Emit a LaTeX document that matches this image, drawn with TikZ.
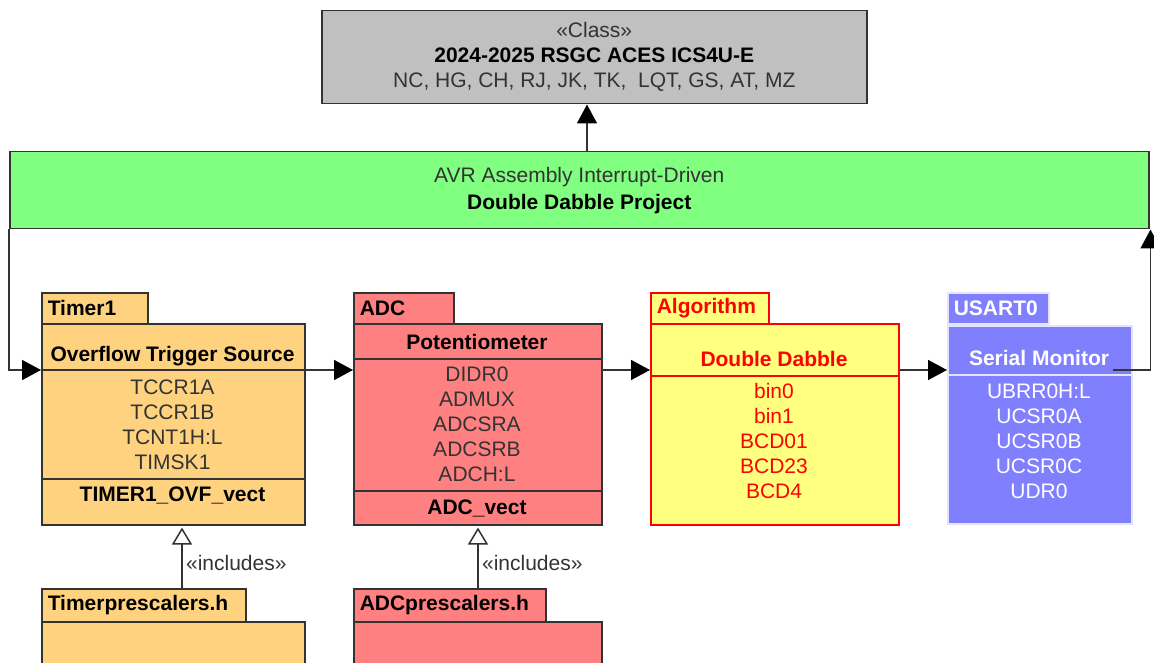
\documentclass[tikz,border=0pt]{standalone}
\usepackage{fontspec}
\setmainfont{Liberation Sans}
\usepackage{xcolor}
\usepackage{tikz}
\usetikzlibrary{arrows.meta,positioning}
\definecolor{linec}{HTML}{333333}
\definecolor{textc}{HTML}{333333}
\definecolor{classc}{HTML}{C0C0C0}
\definecolor{projc}{HTML}{80FF80}
\definecolor{timerc}{HTML}{FFD280}
\definecolor{adcc}{HTML}{FF8080}
\definecolor{algoc}{HTML}{FFFF80}
\definecolor{usartc}{HTML}{8080FF}
\definecolor{usartl}{HTML}{E4E4FF}
\tikzset{
  ar/.style={-{Triangle[length=19pt,width=20pt,color=black]},line width=1.5pt,linec},
  inc/.style={-{Triangle[open,length=17pt,width=20pt,fill=white]},line width=1.5pt,linec,shorten >=2pt},
  box/.style={draw=linec,line width=1.5pt,anchor=north west,inner sep=0pt},
  tab/.style={box,font=\fontsize{21}{25}\selectfont\bfseries,align=left,inner xsep=6pt,minimum height=31pt},
  sep/.style={line width=1.5pt,linec}
}
\newcommand{\ttl}[1]{\textcolor{black}{\textbf{#1}}}

\begin{document}
\begin{tikzpicture}[x=1pt,y=-1pt,font=\fontsize{21}{25}\selectfont,text=textc]
\clip (0,0) rectangle (1154,663);
\coordinate (row) at (0,370);
% top
\node[box,fill=classc,minimum width=545pt,minimum height=93pt,align=center] (cls) at (321,10)
  {«Class»\\\ttl{2024-2025 RSGC ACES ICS4U-E}\\NC, HG, CH, RJ, JK, TK,\ \ LQT, GS, AT, MZ};
\node[box,fill=projc,minimum width=1139pt,minimum height=77pt,align=center] (proj) at (9,151)
  {AVR Assembly Interrupt-Driven\\[2pt]\ttl{Double Dabble Project}};
\coordinate (up) at (587,151);
\draw[ar] (up) -- (up |- cls.south);
% Timer1
\node[tab,fill=timerc,text width=94pt] (timerTab) at (41,292) {\ttl{Timer1}};
\node[box,fill=timerc,minimum width=263pt,minimum height=201pt] (timer) at (41,323) {};
\node (timerHd) at (172.5,356) {\ttl{Overflow Trigger Source}};
\node[align=center] (timerAtt) at (172.5,425) {TCCR1A\\TCCR1B\\TCNT1H:L\\TIMSK1};
\node (timerOp) at (172.5,495) {\ttl{TIMER1\_OVF\_vect}};
\draw[sep] (timer.west |- row) -- (timer.east |- row);
\draw[sep] (41,479) -- (304,479);
% ADC
\node[tab,fill=adcc,text width=88pt] (adcTab) at (353,292) {\ttl{ADC}};
\node[box,fill=adcc,minimum width=248pt,minimum height=201pt] (adc) at (353,323) {};
\node (adcHd) at (477,342) {\ttl{Potentiometer}};
\node[align=center] (adcAtt) at (477,424.5) {DIDR0\\ADMUX\\ADCSRA\\ADCSRB\\ADCH:L};
\node (adcOp) at (477,508) {\ttl{ADC\_vect}};
\draw[sep] (353,359) -- (601,359);
\draw[sep] (353,491) -- (601,491);
% Algorithm
\node[tab,draw=red,fill=algoc,text=red,text width=106pt] (algoTab) at (650,292) {Algorithm};
\node[box,draw=red,fill=algoc,minimum width=248pt,minimum height=201pt] (algo) at (650,323) {};
\node[text=red,font=\fontsize{21}{25}\selectfont\bfseries] (algoHd) at (774,359) {Double Dabble};
\node[text=red,align=center] (algoAtt) at (774,441) {bin0\\bin1\\BCD01\\BCD23\\BCD4};
\draw[sep,red] (650,376) -- (898,376);
% USART0
\node[tab,draw=usartl,fill=usartc,text=white,text width=89pt] (usartTab) at (947,292) {USART0};
\node[box,draw=usartl,fill=usartc,minimum width=184pt,minimum height=198pt] (usart) at (947,325) {};
\node[text=white,font=\fontsize{21}{25}\selectfont\bfseries] (usartHd) at (1039,358) {Serial Monitor};
\node[text=white,align=center] (usartAtt) at (1039,441.5) {UBRR0H:L\\UCSR0A\\UCSR0B\\UCSR0C\\UDR0};
\draw[sep,usartl] (947,375) -- (1131,375);
% flow
\draw[ar] (proj.south west) |- (timer.west |- row);
\draw[ar] (timer.east |- row) -- (adc.west |- row);
\draw[ar] (adc.east |- row) -- (algo.west |- row);
\draw[ar] (algo.east |- row) -- (usart.west |- row);
\draw[ar] (usartHd.east |- row) -| ([xshift=1pt]proj.south east);
% prescalers
\node[tab,fill=timerc,text width=192pt,minimum height=33pt] (tpTab) at (41,588) {\ttl{Timerprescalers.h}};
\node[box,fill=timerc,minimum width=263pt,minimum height=70pt] (tp) at (41,621) {};
\node[tab,fill=adcc,text width=180pt,minimum height=33pt] (apTab) at (353,588) {\ttl{ADCprescalers.h}};
\node[box,fill=adcc,minimum width=248pt,minimum height=70pt] (ap) at (353,621) {};
\draw[inc] ([xshift=141pt]tpTab.north west) -- node[pos=0.4,right] (tIncl) {«includes»} ([xshift=141pt]timer.south west);
\draw[inc] ([xshift=125pt]apTab.north west) -- node[pos=0.4,right] (aIncl) {«includes»} ([xshift=125pt]adc.south west);
\end{tikzpicture}
\end{document}
